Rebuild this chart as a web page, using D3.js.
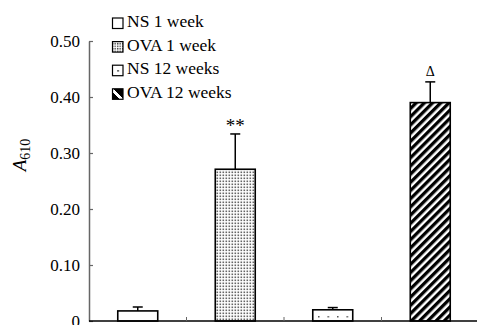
<!DOCTYPE html>
<html>
<head>
<meta charset="utf-8">
<script src="https://cdn.jsdelivr.net/npm/d3@7"></script>
<style>
html,body{margin:0;padding:0;background:#fff;}
svg{display:block;}
text{font-family:"Liberation Serif","Times New Roman",serif;}
</style>
</head>
<body>
<svg id="chart" width="477" height="325"></svg>
<script>
const categories = ["NS 1 week", "OVA 1 week", "NS 12 weeks", "OVA 12 weeks"];
const values = [0.018, 0.271, 0.020, 0.390];
const errors = [0.007, 0.063, 0.004, 0.037];
const annotations = ["", "**", "", "\u0394"];
const yTicks = [0, 0.1, 0.2, 0.3, 0.4, 0.5];
const fills = ["white", "url(#dense)", "url(#sparse)", "url(#stripes)"];
const legendFills = ["white", "url(#denseL)", "url(#sparseL)", "url(#stripesL)"];

const svg = d3.select("#chart");
const defs = svg.append("defs");

// dense dot pattern
const pd = defs.append("pattern").attr("id","dense").attr("patternUnits","userSpaceOnUse")
  .attr("width",3).attr("height",3);
pd.append("rect").attr("width",3).attr("height",3).attr("fill","#fff");
pd.append("rect").attr("x",0.5).attr("y",0.5).attr("width",1.6).attr("height",1.6).attr("fill","#666");
const pdl = defs.append("pattern").attr("id","denseL").attr("patternUnits","userSpaceOnUse")
  .attr("width",2.5).attr("height",2.5);
pdl.append("rect").attr("width",2.5).attr("height",2.5).attr("fill","#fff");
pdl.append("rect").attr("width",1.4).attr("height",1.4).attr("fill","#444");

// sparse dot pattern
const ps = defs.append("pattern").attr("id","sparse").attr("patternUnits","userSpaceOnUse")
  .attr("width",9.5).attr("height",9).attr("x",318).attr("y",316);
ps.append("rect").attr("width",9.5).attr("height",9).attr("fill","#fff");
ps.append("rect").attr("x",0).attr("y",0).attr("width",1.5).attr("height",1.5).attr("fill","#555");
const psl = defs.append("pattern").attr("id","sparseL").attr("patternUnits","objectBoundingBox")
  .attr("width",1).attr("height",1);
psl.append("rect").attr("width",11).attr("height",11).attr("fill","#fff");
psl.append("rect").attr("x",4.8).attr("y",4.8).attr("width",1.6).attr("height",1.6).attr("fill","#333");

// stripes
const pt = defs.append("pattern").attr("id","stripes").attr("patternUnits","userSpaceOnUse")
  .attr("width",5.8).attr("height",10).attr("patternTransform","rotate(45)");
pt.append("rect").attr("width",5.8).attr("height",10).attr("fill","#fff");
pt.append("rect").attr("width",3.3).attr("height",10).attr("fill","#000");
const ptl = defs.append("linearGradient").attr("id","stripesL")
  .attr("x1","0").attr("y1","1").attr("x2","1").attr("y2","0");
ptl.append("stop").attr("offset","0").attr("stop-color","#000");
ptl.append("stop").attr("offset","0.36").attr("stop-color","#000");
ptl.append("stop").attr("offset","0.36").attr("stop-color","#fff");
ptl.append("stop").attr("offset","0.56").attr("stop-color","#fff");
ptl.append("stop").attr("offset","0.56").attr("stop-color","#000");
ptl.append("stop").attr("offset","1").attr("stop-color","#000");

const x = d3.scaleBand().domain(categories).range([89, 479]).paddingInner(0.59).paddingOuter(0.295);
const y = d3.scaleLinear().domain([0, 0.5]).range([321, 41]);

// y axis (ticks point inward)
const yAxis = d3.axisLeft(y).tickValues(yTicks).tickSizeInner(-4).tickSizeOuter(0)
  .tickFormat(d => d === 0 ? "0" : d3.format(".2f")(d));
const gy = svg.append("g").attr("transform","translate(89,0)").call(yAxis);
gy.select(".domain").attr("stroke","#666").attr("stroke-width",1.5);
gy.selectAll(".tick line").attr("stroke","#666").attr("stroke-width",1.2);
gy.selectAll(".tick text").attr("x",-9).attr("font-size","17px")
  .attr("font-family","Liberation Serif").attr("fill","#000");

// y label
const yl = svg.append("text").attr("transform","translate(26,155) rotate(-90)")
  .attr("text-anchor","middle").attr("font-size","19px");
yl.append("tspan").attr("font-style","italic").text("A");
yl.append("tspan").attr("font-size","14px").attr("dy",4).text("610");

// bars
svg.selectAll("rect.bar").data(categories).join("rect").attr("class","bar")
  .attr("x", d => x(d)).attr("width", x.bandwidth())
  .attr("y", (d,i) => y(values[i])).attr("height", (d,i) => y(0) - y(values[i]))
  .attr("fill", (d,i) => fills[i]).attr("stroke","#000").attr("stroke-width",1.6);

// error bars
const eb = svg.selectAll("g.err").data(categories).join("g").attr("class","err");
eb.append("line").attr("x1", d => x(d)+x.bandwidth()/2).attr("x2", d => x(d)+x.bandwidth()/2)
  .attr("y1", (d,i) => y(values[i])).attr("y2", (d,i) => y(values[i]+errors[i]))
  .attr("stroke","#000").attr("stroke-width",1.5);
eb.append("line").attr("x1", d => x(d)+x.bandwidth()/2-5).attr("x2", d => x(d)+x.bandwidth()/2+5)
  .attr("y1", (d,i) => y(values[i]+errors[i])).attr("y2", (d,i) => y(values[i]+errors[i]))
  .attr("stroke","#000").attr("stroke-width",1.5);

// annotations
svg.selectAll("text.ann").data(categories).join("text").attr("class","ann")
  .attr("x", d => x(d)+x.bandwidth()/2)
  .attr("y", (d,i) => y(values[i]+errors[i]) - (i===3 ? 6 : 2))
  .attr("text-anchor","middle").attr("font-size", (d,i) => i===3 ? "14px" : "19px")
  .attr("font-family", (d,i) => i===3 ? "DejaVu Sans" : null)
  .text((d,i) => annotations[i]);

// x axis
svg.append("line").attr("x1",89).attr("x2",477).attr("y1",321).attr("y2",321)
  .attr("stroke","#000").attr("stroke-width",1.5);
const bounds = categories.slice(1).map(d => x(d) - x.step()*x.paddingInner()/2);
svg.selectAll("line.xt").data(bounds).join("line").attr("class","xt")
  .attr("x1", d => d).attr("x2", d => d).attr("y1",321).attr("y2",317)
  .attr("stroke","#666").attr("stroke-width",1);

// legend
const lg = svg.append("g");
const rows = lg.selectAll("g").data(categories).join("g")
  .attr("transform", (d,i) => `translate(112,${27 + i*23.6})`);
rows.append("rect").attr("x",0.5).attr("y",-9).attr("width",10.5).attr("height",10.5)
  .attr("fill",(d,i) => legendFills[i]).attr("stroke","#000").attr("stroke-width",1.2);
rows.append("text").attr("x",15).attr("y",0).attr("font-size","17.5px").text(d => d);
</script>
</body>
</html>
